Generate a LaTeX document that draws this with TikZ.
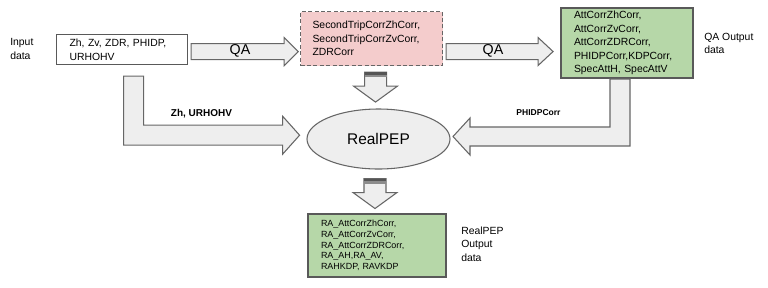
\documentclass[tikz,border=0pt]{standalone}
\usepackage{fontspec}
\setmainfont{Liberation Sans}
\usetikzlibrary{shapes.geometric}

\definecolor{boxline}{HTML}{595959}
\definecolor{arrowline}{HTML}{666666}
\definecolor{arrowfill}{HTML}{EEEEEE}
\definecolor{qafill}{HTML}{F4CCCC}
\definecolor{outfill}{HTML}{B6D7A8}
\definecolor{bardark}{HTML}{555555}
\definecolor{barmid}{HTML}{8C8C8C}

\tikzset{
  datatext/.style={font=\fontsize{7.8}{10.1}\selectfont,align=left},
  databox/.style={draw=boxline,line width=0.9pt,anchor=north west,
    inner ysep=0pt,datatext},
  qabox/.style={draw=arrowline,dash pattern=on 3pt off 1.8pt,line width=0.8pt,fill=qafill},
  outbox/.style={draw=boxline,line width=1.5pt,fill=outfill},
  fatarrow/.style={draw=arrowline,fill=arrowfill,line width=0.8pt},
  sidelabel/.style={datatext,anchor=west,inner sep=0pt},
  flowlabel/.style={font=\bfseries\fontsize{7.5}{9}\selectfont,inner sep=0pt},
  qalabel/.style={font=\fontsize{10.7}{12}\selectfont,inner sep=0pt},
}

\begin{document}
\begin{tikzpicture}[x=0.75pt,y=-0.75pt]
\useasboundingbox (0,0) rectangle (768,287);

% data boxes
\node[databox,inner xsep=9.75pt,text width=78.75pt,minimum height=22.5pt]
    (inbox) at (56,34) {Zh, Zv, ZDR, PHIDP,\\URHOHV};
\node[databox,qabox,inner xsep=9pt,text width=88.5pt,minimum height=40.5pt]
    (qabox) at (300,11)
    {SecondTripCorrZhCorr,\\SecondTripCorrZvCorr,\\ZDRCorr};
\node[databox,outbox,inner xsep=9.75pt,text width=79.5pt,minimum height=52.5pt]
    (qaout) at (560,7)
    {AttCorrZhCorr,\\AttCorrZvCorr,\\AttCorrZDRCorr,\\PHIDPCorr,KDPCorr,\\SpecAttH, SpecAttV};
\node[ellipse,draw=arrowline,fill=arrowfill,line width=0.8pt,
    minimum width=107.25pt,minimum height=45pt,
    font=\fontsize{11.6}{13}\selectfont] (realpep) at (378.5,139) {RealPEP};
\node[databox,outbox,font=\fontsize{6.7}{8.06}\selectfont,
    inner xsep=9.75pt,text width=84pt,minimum height=47.25pt]
    (rpout) at (307,213)
    {RA\_AttCorrZhCorr,\\RA\_AttCorrZvCorr,\\RA\_AttCorrZDRCorr,\\RA\_AH,RA\_AV,\\RAHKDP, RAVKDP};

% side labels
\node[sidelabel] (inlabel) at (10,49) {Input\\data};
\node[sidelabel] (qaoutlabel) at (704,43.5) {QA Output\\data};
\node[sidelabel] (rpoutlabel) at (461,244) {RealPEP\\Output\\data};

% QA steps
\draw[fatarrow] (inbox.east) ++(3,-6) -- ++(93,0) -- ++(0,-6) -- ++(14,14)
    -- ++(-14,14) -- ++(0,-6) -- ++(-93,0) -- cycle;
\node[qalabel] (qa1) at (240,51) {QA};
\draw[fatarrow] (qabox.east) ++(3,5) -- ++(92,0) -- ++(0,-6) -- ++(15,14)
    -- ++(-15,14) -- ++(0,-6) -- ++(-92,0) -- cycle;
\node[qalabel] (qa2) at (493,51) {QA};

% down into RealPEP
\draw[fatarrow] (qabox.south) ++(-7,6) -- ++(22,0) -- ++(0,14) -- ++(11,0)
    -- ++(-22,16) -- ++(-22,-16) -- ++(11,0) -- cycle;
\fill[barmid] (qabox.south) ++(-7,6) rectangle ++(22,5);
\fill[bardark] (qabox.south) ++(-7,6) rectangle ++(22,2.5);

% inputs to RealPEP
\draw[fatarrow] (inbox.south) ++(1.5,11) -- ++(20,0) -- ++(0,49) -- ++(139,0)
    -- ++(0,-9) -- ++(17,19) -- ++(-17,19) -- ++(0,-9) -- ++(-159,0) -- cycle;
\node[flowlabel] (inflow) at (201.5,114) {Zh, URHOHV};
\draw[fatarrow] (qaout.south) ++(3,0) -- ++(0,67) -- ++(-160,0) -- ++(0,9)
    -- ++(-17,-18.5) -- ++(17,-18.5) -- ++(0,9) -- ++(140,0) -- ++(0,-48) -- cycle;
\node[flowlabel,font=\bfseries\fontsize{6.4}{8}\selectfont] (phiflow) at (538.5,113) {PHIDPCorr};

% RealPEP output
\draw[fatarrow] (realpep.south) ++(-14.5,9) -- ++(22,0) -- ++(0,14) -- ++(11,0)
    -- ++(-22,16) -- ++(-22,-16) -- ++(11,0) -- cycle;
\fill[barmid] (realpep.south) ++(-14.5,9) rectangle ++(22,5);
\fill[bardark] (realpep.south) ++(-14.5,9) rectangle ++(22,2.5);
\end{tikzpicture}
\end{document}
